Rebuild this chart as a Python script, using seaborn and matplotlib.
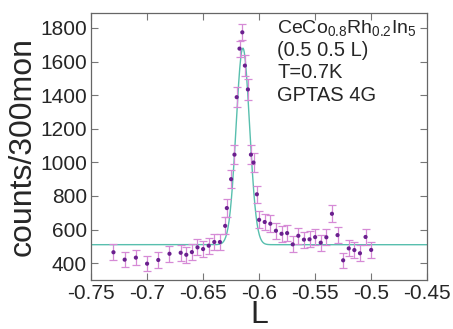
#!/usr/bin/env python
# L scan of CeCo0.8Rh0.2In5 at (0.5 0.5 L), with gaussian fit line

#imports
import numpy as np
import pandas as pd
import matplotlib
matplotlib.use("Agg")
import matplotlib.pyplot as plt
import seaborn as sns

#data
L = [-0.73, -0.72, -0.71, -0.70, -0.69, -0.68, -0.67, -0.665, -0.66, -0.655,
     -0.65, -0.645, -0.64, -0.635, -0.6303, -0.6288, -0.625, -0.622, -0.620,
     -0.6175, -0.615, -0.6127, -0.610, -0.6073, -0.605, -0.602, -0.600,
     -0.595, -0.590, -0.585, -0.580, -0.575, -0.570, -0.565, -0.560, -0.555,
     -0.550, -0.545, -0.540, -0.535, -0.530, -0.525, -0.520, -0.515, -0.510,
     -0.505, -0.500]
counts = [465, 421, 433, 397, 419, 456, 462, 450, 466, 494,
          484, 504, 526, 526, 622, 728, 900, 1046, 1388,
          1677, 1774, 1576, 1434, 1046, 999, 810, 658,
          645, 635, 593, 575, 579, 512, 563, 540, 542,
          555, 522, 554, 694, 567, 417, 488, 478, 459,
          556, 479]
err = [48, 46, 46, 45, 46, 47, 47, 47, 47, 48,
       48, 48, 49, 49, 50, 52, 54, 56, 60,
       47, 47, 62, 60, 56, 55, 52, 50,
       50, 50, 49, 49, 49, 48, 49, 48, 48,
       48, 48, 48, 51, 49, 46, 48, 48, 47,
       48, 48]

# fit parameters (gaussian + flat background)
fit_center = -0.6145
fit_sigma = 0.006
fit_amp = 1170
fit_bg = 510

# sample info lines
info = ["CeCo$_{0.8}$Rh$_{0.2}$In$_5$", "(0.5 0.5 L)", "T=0.7K", "GPTAS 4G"]

df = pd.DataFrame({"L": L, "counts": counts, "err": err})
xs = np.linspace(-0.75, -0.45, 600)
fit = pd.DataFrame({"L": xs,
                    "counts": fit_bg + fit_amp * np.exp(-0.5 * ((xs - fit_center) / fit_sigma) ** 2)})

sns.set_style("ticks")
plt.rcParams["font.family"] = ["Liberation Sans", "DejaVu Sans"]
plt.rcParams["mathtext.fontset"] = "custom"
plt.rcParams["mathtext.rm"] = "Liberation Sans"
plt.rcParams["mathtext.it"] = "Liberation Sans"

#Plot data
fig = plt.figure(figsize=(4.53, 3.29), dpi=100)
ax = fig.add_axes([0.201, 0.149, 0.742, 0.812])

sns.lineplot(data=fit, x="L", y="counts", ax=ax, color="#58bfae", linewidth=1.0, zorder=2)
ax.errorbar(df["L"], df["counts"], yerr=df["err"], fmt="none", ecolor="#d68ad6",
            elinewidth=0.9, capsize=3, capthick=0.9, zorder=3)
sns.scatterplot(data=df, x="L", y="counts", ax=ax, color="#6a1f8e", s=9,
                edgecolor="none", zorder=4)

ax.set_xlim(-0.75, -0.45)
ax.set_ylim(300, 1890)
ax.set_xticks([-0.75, -0.7, -0.65, -0.6, -0.55, -0.5, -0.45])
ax.set_xticklabels(["-0.75", "-0.7", "-0.65", "-0.6", "-0.55", "-0.5", "-0.45"])
ax.set_yticks([400, 600, 800, 1000, 1200, 1400, 1600, 1800])
ax.tick_params(direction="in", length=5, width=0.8, color="#777777",
               top=True, right=True, labelsize=15, pad=3)
for s in ax.spines.values():
    s.set_color("#666666")
    s.set_linewidth(0.9)

ax.set_xlabel("L", fontsize=23, labelpad=-2)
ax.set_ylabel("counts/300mon", fontsize=23, labelpad=2)

for i, line in enumerate(info):
    ax.text(0.554, 0.943 - i * 0.084, line, transform=ax.transAxes,
            fontsize=14 if i == 0 else 14.5, va="center", ha="left")

plt.savefig("out.png", dpi=100)
plt.close()
